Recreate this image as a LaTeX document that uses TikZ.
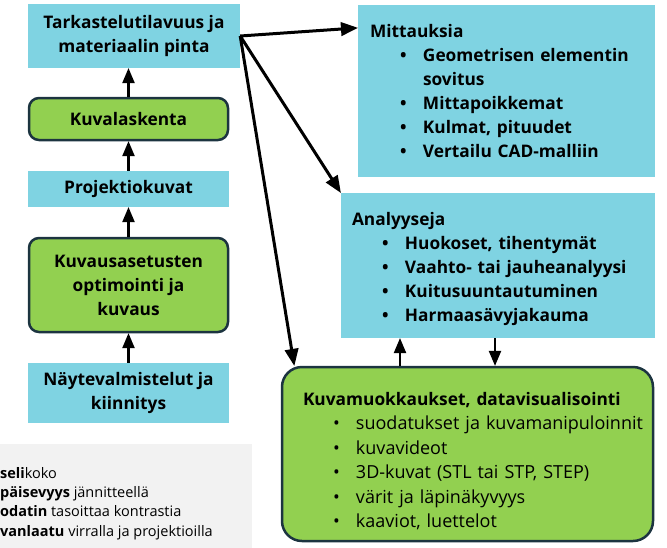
\documentclass[tikz,border=0pt]{standalone}
\usepackage{fontspec}
\setmainfont{Open Sans}
\usetikzlibrary{arrows}

\definecolor{boxblue}{RGB}{127,211,226}
\definecolor{boxgreen}{RGB}{146,208,80}
\definecolor{boxedge}{RGB}{28,52,64}
\definecolor{notegray}{RGB}{242,242,242}

% bullet line inside the list boxes
\newcommand{\bitem}[1]{\\\hspace*{30pt}\makebox[23pt][l]{\textbullet}\mbox{#1}}

\tikzset{
	bluebox/.style={rectangle,fill=boxblue,inner sep=0pt,align=center,
		font=\bfseries\fontsize{17.3}{24}\selectfont},
	greenbox/.style={rectangle,rounded corners=10pt,fill=boxgreen,draw=boxedge,
		line width=2.5pt,inner sep=0pt,align=center,font=\bfseries\fontsize{17.3}{24}\selectfont},
	listbox/.style={rectangle,fill=boxblue,inner ysep=0pt,align=left,
		font=\bfseries\fontsize{17.3}{24}\selectfont},
	flow/.style={->,line width=2.5pt},
}

\begin{document}
\begin{tikzpicture}[>=triangle 45,x=1pt,y=-1pt]
	\clip (0,0) rectangle (667,547);

	% left column
	\node[bluebox,minimum width=212,minimum height=64] (tark) at (134,36) {Tarkastelutilavuus ja\\materiaalin pinta};
	\node[greenbox,minimum width=199,minimum height=42] (kuvalask) at (128.5,119) {Kuvalaskenta};
	\node[bluebox,minimum width=201,minimum height=36] (proj) at (128.5,189) {Projektiokuvat};
	\node[greenbox,minimum width=199,minimum height=94] (kuvaus) at (128.5,285) {Kuvausasetusten\\optimointi ja\\kuvaus};
	\node[bluebox,minimum width=201,minimum height=60] (nayte) at (128.5,393) {Näytevalmistelut ja\\kiinnitys};

	% note box, cut by the page
	\node[rectangle,fill=notegray,minimum width=262,minimum height=120] (note) at (121,504) {};
	\node[anchor=north west,inner sep=0pt,align=left,font=\fontsize{14.5}{19.3}\selectfont] (notetext) at (0,467)
		{\textbf{seli}koko\\\textbf{päisevyys} jännitteellä\\\textbf{odatin} tasoittaa kontrastia\\\textbf{vanlaatu} virralla ja projektioilla};

	% right column
	\node[listbox,text width=273,minimum height=172,inner xsep=12] (mitt) at (506.5,91)
		{Mittauksia\bitem{Geometrisen elementin}\\\hspace*{53pt}sovitus\bitem{Mittapoikkemat}\bitem{Kulmat, pituudet}\bitem{Vertailu CAD-malliin}};
	\node[listbox,text width=292,minimum height=145,inner xsep=11] (anal) at (498,265.5)
		{\rule{0pt}{20pt}Analyyseja\bitem{Huokoset, tihentymät}\bitem{Vaahto- tai jauheanalyysi}\bitem{Kuitusuuntautuminen}\bitem{Harmaasävyjakauma}};
	\node[listbox,fill=boxgreen,draw=boxedge,line width=2.5pt,rounded corners=20pt,text width=329,minimum height=174,inner xsep=21,
		font=\fontsize{18}{24.5}\selectfont] (kmuok) at (467.5,454)
		{\rule{0pt}{27pt}\textbf{\fontsize{17.3}{24}\selectfont Kuvamuokkaukset, datavisualisointi}\bitem{suodatukset ja kuvamanipuloinnit}\bitem{kuvavideot}\bitem{3D-kuvat (STL tai STP, STEP)}\bitem{värit ja läpinäkyvyys}\bitem{kaaviot, luettelot}};

	% flow of the left column
	\draw[flow] (nayte.north) -- (kuvaus.south);
	\draw[flow] (kuvaus.north) -- (proj.south);
	\draw[flow] (proj.north) -- (kuvalask.south);
	\draw[flow] (kuvalask.north) -- (kuvalask.north |- tark.south);

	% from the volume to the results
	\draw[flow,line width=3pt] (tark.east) -- (mitt.157);
	\draw[flow,line width=3pt] (tark.east) -- (anal.north west);
	\draw[flow,line width=3pt] (tark.east) -- (kmuok.153);
	\draw[flow] ([xshift=-98pt]anal.south |- kmuok.north) -- ([xshift=-98pt]anal.south);
	\draw[flow] ([xshift=-3pt]anal.south) -- ([xshift=-3pt]anal.south |- kmuok.north);
\end{tikzpicture}
\end{document}
